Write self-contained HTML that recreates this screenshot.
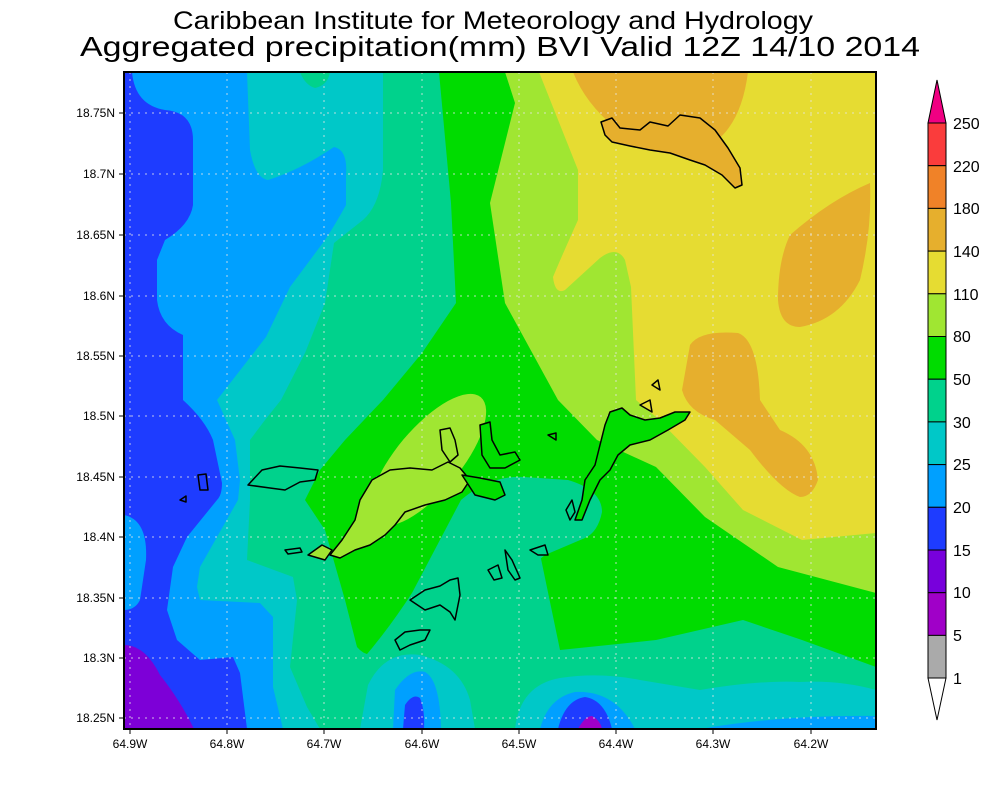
<!DOCTYPE html>
<html><head><meta charset="utf-8"><style>
html,body{margin:0;padding:0;background:#fff;}
svg{display:block;}
text{font-family:"Liberation Sans",sans-serif;fill:#000;}
</style></head><body>
<svg width="1000" height="800" viewBox="0 0 1000 800" xmlns="http://www.w3.org/2000/svg">
<defs><clipPath id="c"><rect x="124" y="72" width="752" height="657"/></clipPath></defs>
<text x="493" y="29" font-size="25" text-anchor="middle" textLength="640" lengthAdjust="spacingAndGlyphs">Caribbean Institute for Meteorology and Hydrology</text>
<text x="500" y="56" font-size="28" text-anchor="middle" textLength="840" lengthAdjust="spacingAndGlyphs">Aggregated precipitation(mm) BVI Valid 12Z 14/10 2014</text>
<g clip-path="url(#c)">
<rect x="124" y="72" width="752" height="657" fill="#00a0ff"/>
<path d="M124,72 L132,72 Q135,105 165,110 Q193,112 193,140 L193,205 Q190,225 165,240 L157,260 L157,300 Q160,325 183,335 L183,400 Q205,420 213,440 L222,483 Q222,495 217,500 L187,537 L173,567 L167,610 L177,640 L200,660 L233,657 L240,673 L247,729 L124,729 Z" fill="#1e3cff"/>
<path d="M124,515 Q148,520 146,560 L140,600 Q135,610 124,610 Z" fill="#00a0ff"/>
<path d="M124,645 Q145,645 160,675 Q180,700 194,729 L124,729 Z" fill="#7d00d7"/>
<path d="M247,72 L250,150 Q255,178 268,180 Q300,170 334,147 Q348,150 346,175 L346,205 Q335,225 325,240 L290,287 L266,337 L217,400 L235,440 L240,480 L238,500 L200,567 L197,587 L200,600 L260,603 L273,617 L273,687 L283,729 L876,729 L876,72 Z" fill="#00c8c8"/>
<path d="M383,72 L383,170 Q380,205 363,220 L334,243 L325,303 L305,353 L281,400 L265,420 L250,440 L250,500 L247,560 L293,577 L297,600 L290,667 L307,707 L320,729 L876,729 L876,72 Z" fill="#00d28c"/>
<path d="M300,72 Q305,85 315,88 Q328,85 330,72 Z" fill="#00d28c"/>
<path d="M439,72 L451,203 L456,303 L422,353 L383,400 L345,440 L320,470 L305,500 L325,530 L345,600 L357,647 Q368,660 380,650 L412,600 L461,510 L490,485 L524,477 L560,650 L656,640 L743,620 L802,640 L876,667 L876,72 Z" fill="#00dc00"/>
<path d="M461,500 Q490,475 524,477 L568,480 Q602,490 602,512 Q598,532 585,538 L545,555 Q524,570 524,600 L527,640 Q535,660 549,662 L549,729 L360,729 L362,660 Q388,630 412,593 Z" fill="#00d28c"/>
<path d="M505,72 L515,103 L490,203 L505,303 L558,400 L597,440 L656,467 L705,517 L778,567 L876,593 L876,72 Z" fill="#a0e632"/>
<ellipse cx="428" cy="460" rx="82" ry="32" transform="rotate(-50 428 460)" fill="#a0e632"/>
<path d="M539,72 L578,170 L578,220 Q560,260 553,277 Q555,295 565,290 L600,258 Q617,245 625,260 L631,287 L636,400 L656,417 L705,467 L743,510 L802,540 L876,533 L876,72 Z" fill="#e6dc32"/>
<path d="M573,72 Q590,115 640,145 Q670,160 700,150 Q740,135 748,72 Z" fill="#e6af2d"/>
<path d="M870,183 Q830,200 790,235 Q778,260 778,300 Q780,327 800,327 Q840,320 860,280 Q872,230 870,183 Z" fill="#e6af2d"/>
<path d="M690,345 Q700,330 738,333 Q758,340 760,400 L780,430 Q815,445 818,480 Q812,497 800,497 Q780,490 750,450 L715,420 Q688,412 682,390 Z" fill="#e6af2d"/>
<path d="M360,729 L368,685 Q385,650 420,655 Q460,665 470,700 L475,729 Z" fill="#00c8c8"/>
<path d="M393,729 L395,690 Q410,668 425,672 Q440,680 441,729 Z" fill="#00a0ff"/>
<path d="M403,729 L405,705 Q413,693 420,698 Q425,710 424,729 Z" fill="#1e3cff"/>
<path d="M515,729 Q520,685 560,678 Q600,672 640,680 L700,690 Q760,680 800,682 Q840,680 876,690 L876,729 Z" fill="#00c8c8"/>
<path d="M540,729 Q548,698 575,692 Q615,690 635,729 Z" fill="#00a0ff"/>
<path d="M700,729 Q780,715 876,716 L876,729 Z" fill="#00a0ff"/>
<path d="M558,729 Q565,700 585,697 Q605,700 612,729 Z" fill="#1e3cff"/>
<path d="M578,729 Q585,716 592,716 Q600,720 602,729 Z" fill="#a000c8"/>
<g stroke="#e8e8e8" stroke-width="1" stroke-dasharray="2,5" fill="none" opacity="0.8">
<path d="M227,72V729M324,72V729M422,72V729M519,72V729M616,72V729M713,72V729M811,72V729M130,72V729"/>
<path d="M124,113H876M124,174H876M124,235H876M124,296H876M124,356H876M124,416H876M124,477H876M124,537H876M124,598H876M124,658H876M124,718H876"/>
</g>
<g stroke="#000" stroke-width="1.5" fill="#a0e632" stroke-linejoin="round">
<path d="M601,122 L612,118 L620,128 L640,130 L650,122 L668,126 L680,115 L700,118 L715,130 L728,148 L740,168 L742,185 L735,188 L722,175 L705,165 L690,160 L670,153 L650,150 L630,146 L612,142 L605,135 Z" fill="#e6af2d"/>
<path d="M330,555 L342,540 L355,520 L360,500 L372,480 L390,470 L410,468 L432,470 L448,462 L460,468 L470,480 L462,492 L445,500 L425,505 L405,512 L395,525 L385,535 L370,545 L355,550 L340,558 Z"/>
<path d="M462,475 L480,478 L500,482 L505,495 L495,500 L475,495 Z" fill="#00dc00"/>
<path d="M248,485 L262,470 L280,466 L300,468 L318,470 L315,480 L300,482 L285,490 L270,488 Z" fill="#00d28c"/>
<path d="M285,550 L300,548 L302,552 L288,554 Z" fill="#00d28c"/>
<path d="M308,555 L322,545 L332,550 L325,560 Z"/>
<path d="M575,520 L582,500 L585,480 L595,465 L600,445 L605,425 L610,412 L622,408 L630,415 L645,420 L660,418 L675,412 L690,412 L685,420 L668,430 L650,440 L630,445 L618,455 L610,470 L600,480 L590,500 L582,520 Z" fill="#00dc00"/>
<path d="M440,430 L450,428 L455,440 L458,455 L450,462 L442,450 Z"/>
<path d="M480,425 L490,422 L492,440 L500,455 L515,452 L520,460 L505,468 L490,468 L482,455 Z" fill="#00dc00"/>
<path d="M410,600 L425,590 L440,586 L450,580 L458,578 L460,595 L455,620 L450,612 L440,605 L425,610 Z" fill="#00d28c"/>
<path d="M395,640 L405,632 L420,630 L430,630 L425,640 L410,645 L400,650 Z" fill="#00d28c"/>
<path d="M488,570 L498,565 L502,578 L494,580 Z" fill="#00d28c"/>
<path d="M505,550 L512,560 L520,578 L515,580 L508,570 Z" fill="#00d28c"/>
<path d="M530,550 L545,545 L548,555 L538,555 Z" fill="#00d28c"/>
<path d="M566,510 L572,500 L575,512 L570,520 Z" fill="#00d28c"/>
<path d="M198,475 L206,474 L208,490 L200,490 Z" fill="#1e3cff"/>
<path d="M180,500 L186,496 L186,502 Z" fill="#1e3cff"/>
<path d="M640,405 L650,400 L652,412 Z" fill="#e6dc32"/>
<path d="M652,385 L658,380 L660,390 Z" fill="#e6dc32"/>
<path d="M548,435 L556,433 L556,440 Z" fill="#00dc00"/>
</g>
</g>
<rect x="124" y="72" width="752" height="657" fill="none" stroke="#000" stroke-width="2"/>
<g font-size="12" text-anchor="end">
<text x="115" y="117">18.75N</text><text x="115" y="178">18.7N</text><text x="115" y="239">18.65N</text><text x="115" y="300">18.6N</text><text x="115" y="360">18.55N</text><text x="115" y="420">18.5N</text><text x="115" y="481">18.45N</text><text x="115" y="541">18.4N</text><text x="115" y="602">18.35N</text><text x="115" y="662">18.3N</text><text x="115" y="722">18.25N</text>
</g>
<g stroke="#000" stroke-width="1">
<path d="M119,113H124M119,174H124M119,235H124M119,296H124M119,356H124M119,416H124M119,477H124M119,537H124M119,598H124M119,658H124M119,718H124"/>
<path d="M130,729V734M227,729V734M324,729V734M422,729V734M519,729V734M616,729V734M713,729V734M811,729V734"/>
</g>
<g font-size="12" text-anchor="middle">
<text x="130" y="748">64.9W</text><text x="227" y="748">64.8W</text><text x="324" y="748">64.7W</text><text x="422" y="748">64.6W</text><text x="519" y="748">64.5W</text><text x="616" y="748">64.4W</text><text x="713" y="748">64.3W</text><text x="811" y="748">64.2W</text>
</g>
<g stroke="#000" stroke-width="1">
<path d="M928,123 L937,80 L946,123 Z" fill="#f00082"/>
<rect x="928" y="123" width="18" height="42.7" fill="#fa3c3c"/>
<rect x="928" y="165.7" width="18" height="42.7" fill="#f08228"/>
<rect x="928" y="208.4" width="18" height="42.7" fill="#e6af2d"/>
<rect x="928" y="251.1" width="18" height="42.7" fill="#e6dc32"/>
<rect x="928" y="293.8" width="18" height="42.7" fill="#a0e632"/>
<rect x="928" y="336.5" width="18" height="42.7" fill="#00dc00"/>
<rect x="928" y="379.2" width="18" height="42.7" fill="#00d28c"/>
<rect x="928" y="421.9" width="18" height="42.7" fill="#00c8c8"/>
<rect x="928" y="464.6" width="18" height="42.7" fill="#00a0ff"/>
<rect x="928" y="507.3" width="18" height="42.7" fill="#1e3cff"/>
<rect x="928" y="550" width="18" height="42.7" fill="#7800dc"/>
<rect x="928" y="592.7" width="18" height="42.7" fill="#a000c8"/>
<rect x="928" y="635.4" width="18" height="42.7" fill="#aaaaaa"/>
<path d="M928,678 L937,720 L946,678 Z" fill="#fff"/>
</g>
<g font-size="16">
<text x="953" y="129">250</text><text x="953" y="172">220</text><text x="953" y="214">180</text><text x="953" y="257">140</text><text x="953" y="300">110</text><text x="953" y="342">80</text><text x="953" y="385">50</text><text x="953" y="428">30</text><text x="953" y="470">25</text><text x="953" y="513">20</text><text x="953" y="556">15</text><text x="953" y="598">10</text><text x="953" y="641">5</text><text x="953" y="684">1</text>
</g>
</svg>
</body></html>
